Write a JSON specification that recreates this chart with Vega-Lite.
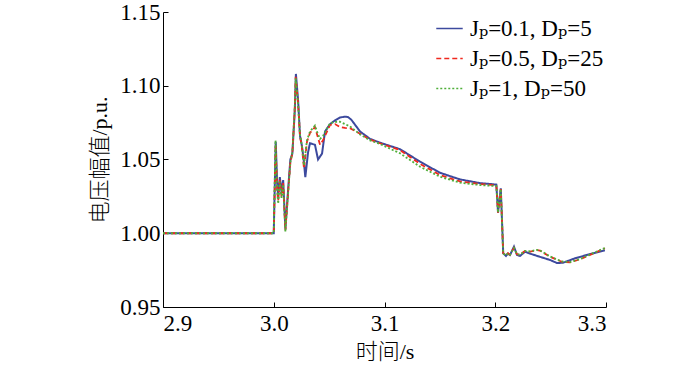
{
  "$schema": "https://vega.github.io/schema/vega-lite/v6.json",
  "width": 443,
  "height": 295,
  "autosize": {"type": "none"},
  "padding": {"left": 163, "top": 12, "right": 94, "bottom": 64},
  "background": "white",
  "config": {
    "view": {"stroke": null},
    "font": "'Liberation Serif', 'Times New Roman', Tinos, 'DejaVu Serif', serif",
    "axis": {"labelFont": "'Liberation Serif', 'Times New Roman', Tinos, 'DejaVu Serif', serif", "titleFont": "'Liberation Serif', 'Times New Roman', 'Noto Sans CJK SC', serif"},
    "legend": {"labelFont": "'Liberation Serif', 'Times New Roman', Tinos, 'DejaVu Serif', serif"}
  },
  "datasets": {
    "blue": [
      {"t": 2.9, "v": 1.0}, {"t": 3.0, "v": 1.0}, {"t": 3.0018, "v": 1.062}, {"t": 3.003, "v": 1.035},
      {"t": 3.004, "v": 1.025}, {"t": 3.0055, "v": 1.038}, {"t": 3.007, "v": 1.028}, {"t": 3.0085, "v": 1.036},
      {"t": 3.0105, "v": 1.003}, {"t": 3.013, "v": 1.03}, {"t": 3.015, "v": 1.05}, {"t": 3.0168, "v": 1.054},
      {"t": 3.019, "v": 1.083}, {"t": 3.02, "v": 1.108}, {"t": 3.022, "v": 1.09}, {"t": 3.0237, "v": 1.066},
      {"t": 3.0255, "v": 1.059}, {"t": 3.027, "v": 1.05}, {"t": 3.0285, "v": 1.038}, {"t": 3.031, "v": 1.055},
      {"t": 3.0327, "v": 1.061}, {"t": 3.0372, "v": 1.06}, {"t": 3.04, "v": 1.05}, {"t": 3.0436, "v": 1.054},
      {"t": 3.0463, "v": 1.069}, {"t": 3.0508, "v": 1.074}, {"t": 3.0553, "v": 1.0765}, {"t": 3.0598, "v": 1.0785},
      {"t": 3.0643, "v": 1.079}, {"t": 3.067, "v": 1.0788}, {"t": 3.07, "v": 1.077}, {"t": 3.0779, "v": 1.069},
      {"t": 3.0869, "v": 1.064}, {"t": 3.0959, "v": 1.0614}, {"t": 3.114, "v": 1.057}, {"t": 3.1321, "v": 1.0485},
      {"t": 3.1501, "v": 1.041}, {"t": 3.1682, "v": 1.0365}, {"t": 3.1862, "v": 1.034}, {"t": 3.201, "v": 1.033},
      {"t": 3.2025, "v": 1.014}, {"t": 3.205, "v": 1.0305}, {"t": 3.2072, "v": 0.9864}, {"t": 3.2097, "v": 0.9846},
      {"t": 3.2115, "v": 0.9862}, {"t": 3.2133, "v": 0.9852}, {"t": 3.2169, "v": 0.9909}, {"t": 3.2196, "v": 0.9853},
      {"t": 3.2223, "v": 0.9846}, {"t": 3.2269, "v": 0.9875}, {"t": 3.2314, "v": 0.9862}, {"t": 3.2404, "v": 0.984},
      {"t": 3.2494, "v": 0.9819}, {"t": 3.2558, "v": 0.9798}, {"t": 3.2612, "v": 0.98}, {"t": 3.272, "v": 0.983},
      {"t": 3.2856, "v": 0.9859}, {"t": 3.299, "v": 0.9885}
    ],
    "red": [
      {"t": 2.9, "v": 1.0}, {"t": 3.0, "v": 1.0}, {"t": 3.0017, "v": 1.06}, {"t": 3.003, "v": 1.03},
      {"t": 3.004, "v": 1.022}, {"t": 3.0055, "v": 1.036}, {"t": 3.007, "v": 1.025}, {"t": 3.0085, "v": 1.034},
      {"t": 3.0105, "v": 1.002}, {"t": 3.013, "v": 1.028}, {"t": 3.015, "v": 1.048}, {"t": 3.0168, "v": 1.054},
      {"t": 3.019, "v": 1.085}, {"t": 3.0198, "v": 1.106}, {"t": 3.022, "v": 1.088}, {"t": 3.0237, "v": 1.066},
      {"t": 3.0255, "v": 1.058}, {"t": 3.0273, "v": 1.044}, {"t": 3.03, "v": 1.062}, {"t": 3.0327, "v": 1.068},
      {"t": 3.0372, "v": 1.072}, {"t": 3.0395, "v": 1.066}, {"t": 3.0418, "v": 1.06}, {"t": 3.0445, "v": 1.063},
      {"t": 3.0508, "v": 1.0734}, {"t": 3.0553, "v": 1.074}, {"t": 3.0598, "v": 1.072}, {"t": 3.0643, "v": 1.0714},
      {"t": 3.0688, "v": 1.0712}, {"t": 3.0779, "v": 1.0675}, {"t": 3.0869, "v": 1.0635}, {"t": 3.0959, "v": 1.061},
      {"t": 3.114, "v": 1.0564}, {"t": 3.1321, "v": 1.047}, {"t": 3.1501, "v": 1.0395}, {"t": 3.1682, "v": 1.0351},
      {"t": 3.1862, "v": 1.0334}, {"t": 3.201, "v": 1.0325}, {"t": 3.2025, "v": 1.014}, {"t": 3.205, "v": 1.03},
      {"t": 3.2072, "v": 0.9864}, {"t": 3.2097, "v": 0.985}, {"t": 3.2115, "v": 0.9865}, {"t": 3.2133, "v": 0.9855},
      {"t": 3.2169, "v": 0.99}, {"t": 3.2196, "v": 0.9858}, {"t": 3.2223, "v": 0.9855}, {"t": 3.2269, "v": 0.988},
      {"t": 3.2314, "v": 0.9875}, {"t": 3.2377, "v": 0.9885}, {"t": 3.2404, "v": 0.9882}, {"t": 3.2494, "v": 0.9841},
      {"t": 3.26, "v": 0.9807}, {"t": 3.2675, "v": 0.9803}, {"t": 3.2765, "v": 0.9823}, {"t": 3.2856, "v": 0.9853},
      {"t": 3.299, "v": 0.9898}
    ],
    "green": [
      {"t": 2.9, "v": 1.0}, {"t": 3.0, "v": 1.0}, {"t": 3.0016, "v": 1.063}, {"t": 3.003, "v": 1.03},
      {"t": 3.004, "v": 1.02}, {"t": 3.0055, "v": 1.035}, {"t": 3.007, "v": 1.024}, {"t": 3.0085, "v": 1.033},
      {"t": 3.0105, "v": 1.001}, {"t": 3.013, "v": 1.027}, {"t": 3.015, "v": 1.048}, {"t": 3.0168, "v": 1.055},
      {"t": 3.019, "v": 1.086}, {"t": 3.0198, "v": 1.105}, {"t": 3.022, "v": 1.087}, {"t": 3.0237, "v": 1.067},
      {"t": 3.0255, "v": 1.059}, {"t": 3.0273, "v": 1.046}, {"t": 3.03, "v": 1.063}, {"t": 3.0327, "v": 1.069},
      {"t": 3.0372, "v": 1.073}, {"t": 3.0395, "v": 1.068}, {"t": 3.0418, "v": 1.064}, {"t": 3.0445, "v": 1.066},
      {"t": 3.0508, "v": 1.0745}, {"t": 3.0553, "v": 1.0755}, {"t": 3.0598, "v": 1.0756}, {"t": 3.0643, "v": 1.074},
      {"t": 3.0688, "v": 1.0725}, {"t": 3.0779, "v": 1.067}, {"t": 3.0869, "v": 1.063}, {"t": 3.0959, "v": 1.0605},
      {"t": 3.114, "v": 1.0542}, {"t": 3.1321, "v": 1.0451}, {"t": 3.1501, "v": 1.0383}, {"t": 3.1682, "v": 1.0343},
      {"t": 3.1862, "v": 1.0327}, {"t": 3.201, "v": 1.032}, {"t": 3.2025, "v": 1.014}, {"t": 3.205, "v": 1.03},
      {"t": 3.2072, "v": 0.9862}, {"t": 3.2097, "v": 0.985}, {"t": 3.2115, "v": 0.9865}, {"t": 3.2133, "v": 0.9855},
      {"t": 3.2169, "v": 0.99}, {"t": 3.2196, "v": 0.9858}, {"t": 3.2223, "v": 0.9855}, {"t": 3.2269, "v": 0.988},
      {"t": 3.2314, "v": 0.9877}, {"t": 3.2377, "v": 0.9887}, {"t": 3.2404, "v": 0.9884}, {"t": 3.2494, "v": 0.9843},
      {"t": 3.26, "v": 0.9809}, {"t": 3.2675, "v": 0.9805}, {"t": 3.2765, "v": 0.9825}, {"t": 3.2856, "v": 0.9856},
      {"t": 3.299, "v": 0.99}
    ]
  },
  "layer": [
    {
      "data": {"name": "blue"},
      "transform": [{"calculate": "'Jₚ=0.1, Dₚ=5'", "as": "s"}],
      "mark": {"type": "line", "strokeWidth": 2, "interpolate": "linear"},
      "encoding": {
        "x": {"field": "t", "type": "quantitative"},
        "y": {"field": "v", "type": "quantitative"},
        "color": {"field": "s", "type": "nominal"},
        "strokeDash": {"field": "s", "type": "nominal"}
      }
    },
    {
      "data": {"name": "red"},
      "transform": [{"calculate": "'Jₚ=0.5, Dₚ=25'", "as": "s"}],
      "mark": {"type": "line", "strokeWidth": 1.8},
      "encoding": {
        "x": {"field": "t", "type": "quantitative"},
        "y": {"field": "v", "type": "quantitative"},
        "color": {"field": "s", "type": "nominal"},
        "strokeDash": {"field": "s", "type": "nominal"}
      }
    },
    {
      "data": {"name": "green"},
      "transform": [{"calculate": "'Jₚ=1, Dₚ=50'", "as": "s"}],
      "mark": {"type": "line", "strokeWidth": 1.8},
      "encoding": {
        "x": {
          "field": "t", "type": "quantitative",
          "scale": {"domain": [2.9, 3.3], "nice": false, "zero": false},
          "axis": {
            "title": "时间/s", "values": [2.9, 3.0, 3.1, 3.2, 3.3], "format": ".1f",
            "grid": false, "domainColor": "black", "tickColor": "black", "tickSize": -5,
            "labelFont": "'Liberation Serif', 'Times New Roman', Tinos, 'DejaVu Serif', serif",
            "labelFontSize": 23, "labelColor": "black", "labelPadding": 10,
            "titleFont": "'Liberation Serif', 'Times New Roman', 'Noto Sans CJK SC', serif",
            "titleFontSize": 22, "titleFontWeight": 300,
            "titleColor": "black", "titlePadding": 6
          }
        },
        "y": {
          "field": "v", "type": "quantitative",
          "scale": {"domain": [0.95, 1.15], "nice": false, "zero": false},
          "axis": {
            "title": "电压幅值/p.u.", "values": [0.95, 1.0, 1.05, 1.1, 1.15], "format": ".2f",
            "grid": false, "domainColor": "black", "tickColor": "black", "tickSize": -5,
            "labelFont": "'Liberation Serif', 'Times New Roman', Tinos, 'DejaVu Serif', serif",
            "labelFontSize": 23, "labelColor": "black", "labelPadding": 8,
            "titleFont": "'Liberation Serif', 'Times New Roman', 'Noto Sans CJK SC', serif",
            "titleFontSize": 22, "titleFontWeight": 300,
            "titleColor": "black", "titlePadding": 8
          }
        },
        "color": {
          "field": "s", "type": "nominal",
          "scale": {
            "domain": ["Jₚ=0.1, Dₚ=5", "Jₚ=0.5, Dₚ=25", "Jₚ=1, Dₚ=50"],
            "range": ["#3d4a9e", "#f0281e", "#4faf3a"]
          },
          "legend": {
            "title": null, "orient": "none", "legendX": 272, "legendY": 2,
            "symbolType": "stroke", "symbolSize": 700, "symbolStrokeWidth": 1.6,
            "labelFontSize": 23, "labelColor": "black",
            "rowPadding": 3, "labelOffset": 6, "labelLimit": 300
          }
        },
        "strokeDash": {
          "field": "s", "type": "nominal",
          "scale": {
            "domain": ["Jₚ=0.1, Dₚ=5", "Jₚ=0.5, Dₚ=25", "Jₚ=1, Dₚ=50"],
            "range": [[1, 0], [5, 3], [2, 2]]
          },
          "legend": null
        }
      }
    }
  ]
}
